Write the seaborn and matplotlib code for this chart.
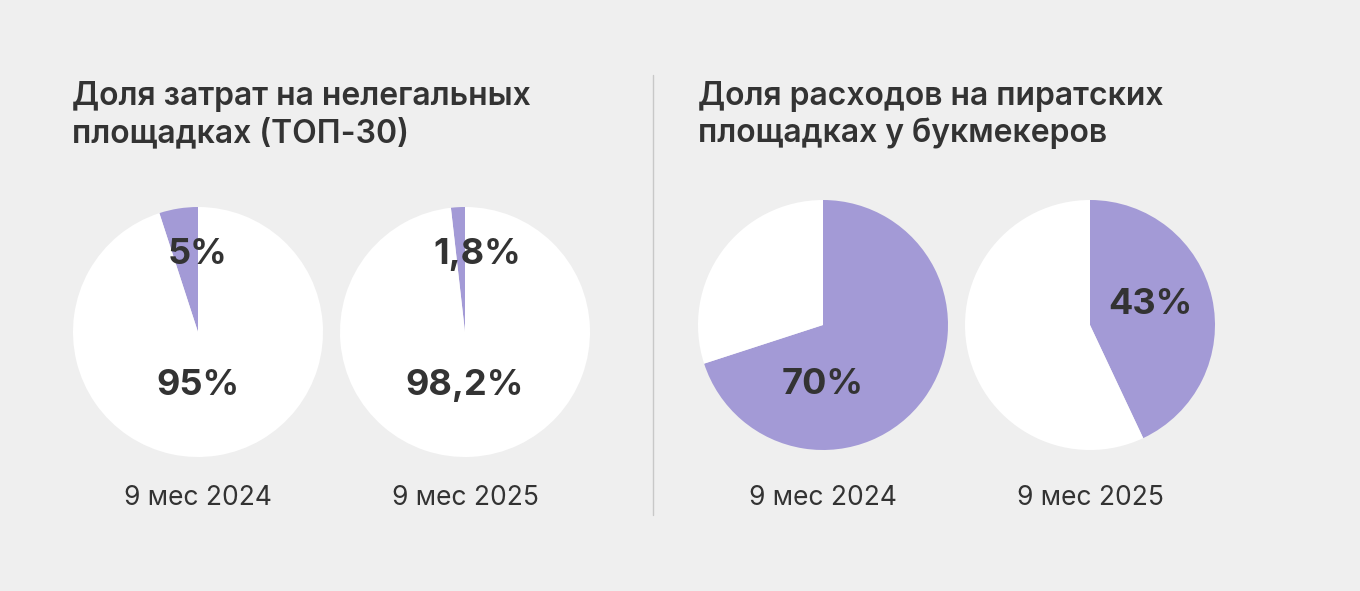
import matplotlib
matplotlib.use("Agg")
import matplotlib.pyplot as plt
import seaborn as sns

# ─── Data ───────────────────────────────────────────────
titles = ["Доля затрат на нелегальных\nплощадках (ТОП-30)",
          "Доля расходов на пиратских\nплощадках у букмекеров"]
periods = ["9 мес 2024", "9 мес 2025", "9 мес 2024", "9 мес 2025"]
share_purple = [5, 1.8, 70, 43]
share_white = [95, 98.2, 30, 57]
purple_labels = ["5%", "1,8%", "70%", "43%"]
white_labels = ["95%", "98,2%", None, None]

sns.set_style("white")
plt.rcParams["font.family"] = ["Inter", "DejaVu Sans"]

BG = "#efefef"
PURPLE = "#a39ad6"
TXT = "#333333"
W, H = 1360, 591

fig = plt.figure(figsize=(W / 100, H / 100), dpi=100, facecolor=BG)

# pie centres (px) and radius
centres = [(198, 332), (465, 332), (823, 325), (1090, 325)]
R = 125
counterclock = [True, True, False, False]
# label offsets relative to centre, in radius units (x, y up)
purple_pos = [(0, 0.62), (0.1, 0.62), (0, -0.48), (0.48, 0.16)]
white_pos = [(0, -0.43), (0, -0.43), None, None]

for i, (cx, cy) in enumerate(centres):
    ax = fig.add_axes([(cx - R) / W, 1 - (cy + R) / H, 2 * R / W, 2 * R / H])
    ax.pie([share_purple[i], share_white[i]], colors=[PURPLE, "white"],
           startangle=90, counterclock=counterclock[i],
           wedgeprops=dict(linewidth=0))
    ax.set_xlim(-1, 1)
    ax.set_ylim(-1, 1)
    ax.set_aspect("equal")
    px, py = purple_pos[i]
    ax.text(px, py, purple_labels[i], ha="center", va="center",
            fontsize=26, fontweight="bold", color=TXT)
    if white_labels[i]:
        wx, wy = white_pos[i]
        ax.text(wx, wy, white_labels[i], ha="center", va="center",
                fontsize=26, fontweight="bold", color=TXT)
    fig.text(cx / W, 1 - 498 / H, periods[i], ha="center", va="center",
             fontsize=19, color=TXT)

fig.text(72 / W, 1 - 115 / H, titles[0], ha="left", va="center",
         fontsize=23, fontweight="semibold", color=TXT, linespacing=1.25)
fig.text(698 / W, 1 - 115 / H, titles[1], ha="left", va="center",
         fontsize=23, fontweight="semibold", color=TXT, linespacing=1.25)

fig.add_artist(plt.Line2D([653 / W, 653 / W], [1 - 75 / H, 1 - 515 / H],
                          color="#c8c8c8", linewidth=1))

fig.savefig("out.png", dpi=100, facecolor=BG)
